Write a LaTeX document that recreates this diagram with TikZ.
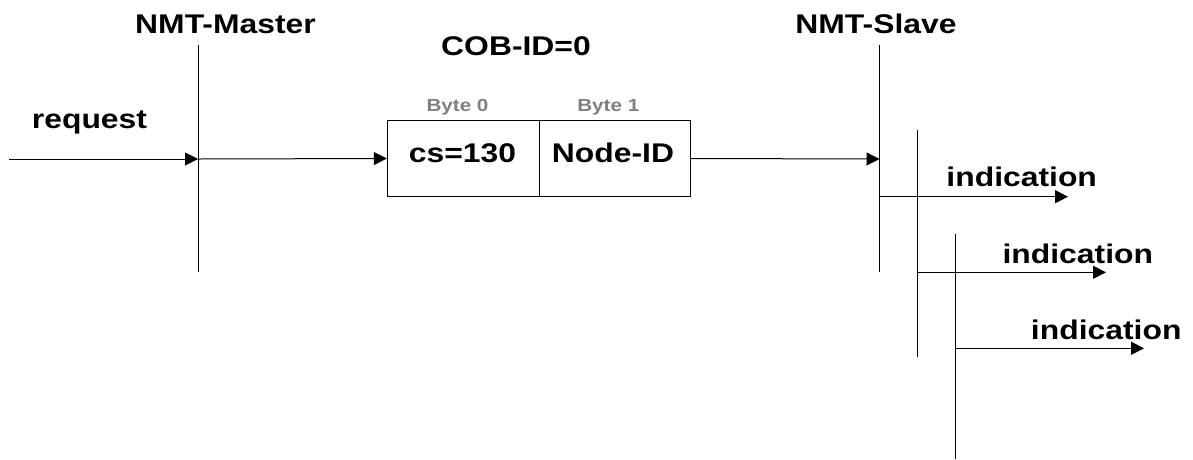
\documentclass[tikz,border=0pt]{standalone}
\usepackage{fontspec}
\setmainfont{Liberation Sans}
\usetikzlibrary{arrows.meta}
% labels are set in a slightly widened bold sans
\newcommand{\widetxt}[1]{\scalebox{1.18}[1]{#1}}
\definecolor{bytegray}{RGB}{128,128,128}
\begin{document}
\begin{tikzpicture}[x=1pt,y=-1pt,
  lbl/.style={font=\bfseries\fontsize{27}{27}\selectfont, inner sep=0pt, anchor=base},
  bytelbl/.style={font=\bfseries\fontsize{17.5}{17.5}\selectfont, text=bytegray, inner sep=0pt, anchor=base},
  life/.style={line width=1pt},
  msg/.style={line width=1pt, -{Triangle[length=13pt,width=13pt]}},
  cell/.style={draw, line width=1pt, minimum height=75.5pt, inner sep=0pt}]
\useasboundingbox (0,0) rectangle (1193,459);

% lifelines
\coordinate (mtop) at (198,45);   \coordinate (mbot) at (198,272);
\coordinate (s1top) at (879.5,45); \coordinate (s1bot) at (879.5,272);
\coordinate (s2top) at (917,130);  \coordinate (s2bot) at (917,357);
\coordinate (s3top) at (955,234);  \coordinate (s3bot) at (955,459);
\draw[life] (mtop) -- (mbot);
\draw[life] (s1top) -- (s1bot);
\draw[life] (s2top) -- (s2bot);
\draw[life] (s3top) -- (s3bot);

% headings
\node[lbl] (master) at (225.5,33.3) {\widetxt{NMT-Master}};
\node[lbl] (cobid) at (516,55) {\widetxt{COB-ID=0}};
\node[lbl] (slave) at (876,33.3) {\widetxt{NMT-Slave}};

% frame with its two bytes
\node[cell, minimum width=151.7pt] (cs) at (463.2,158.5) {};
\node[cell, minimum width=151pt] (nid) at (614.5,158.5) {};
\node[lbl] (cstxt) at (462.5,162.7) {\widetxt{cs=130}};
\node[lbl] (nidtxt) at (613,162.7) {\widetxt{Node-ID}};
\node[bytelbl] (b0) at (457.5,111) {\widetxt{Byte 0}};
\node[bytelbl] (b1) at (608.3,111) {\widetxt{Byte 1}};

% request path
\coordinate (reqin) at (9,159);
\coordinate (mhit) at (198,159);
\coordinate (shit) at (879.5,159);
\node[lbl] (req) at (89.5,128.3) {\widetxt{request}};
\draw[msg] (reqin) -- (mhit);
\draw[msg] (mhit) -- (cs.west);
\draw[msg] (nid.east) -- (shit);

% indications
\coordinate (i1a) at (879.5,196.7); \coordinate (i1b) at (1068,196.7);
\coordinate (i2a) at (917,272.3);   \coordinate (i2b) at (1106,272.3);
\coordinate (i3a) at (955,348.3);   \coordinate (i3b) at (1144,348.3);
\draw[msg] (i1a) -- (i1b);
\draw[msg] (i2a) -- (i2b);
\draw[msg] (i3a) -- (i3b);
\node[lbl] (ind1) at (1021.7,186.7) {\widetxt{indication}};
\node[lbl] (ind2) at (1077.8,263) {\widetxt{indication}};
\node[lbl] (ind3) at (1106.2,339) {\widetxt{indication}};
\end{tikzpicture}
\end{document}
